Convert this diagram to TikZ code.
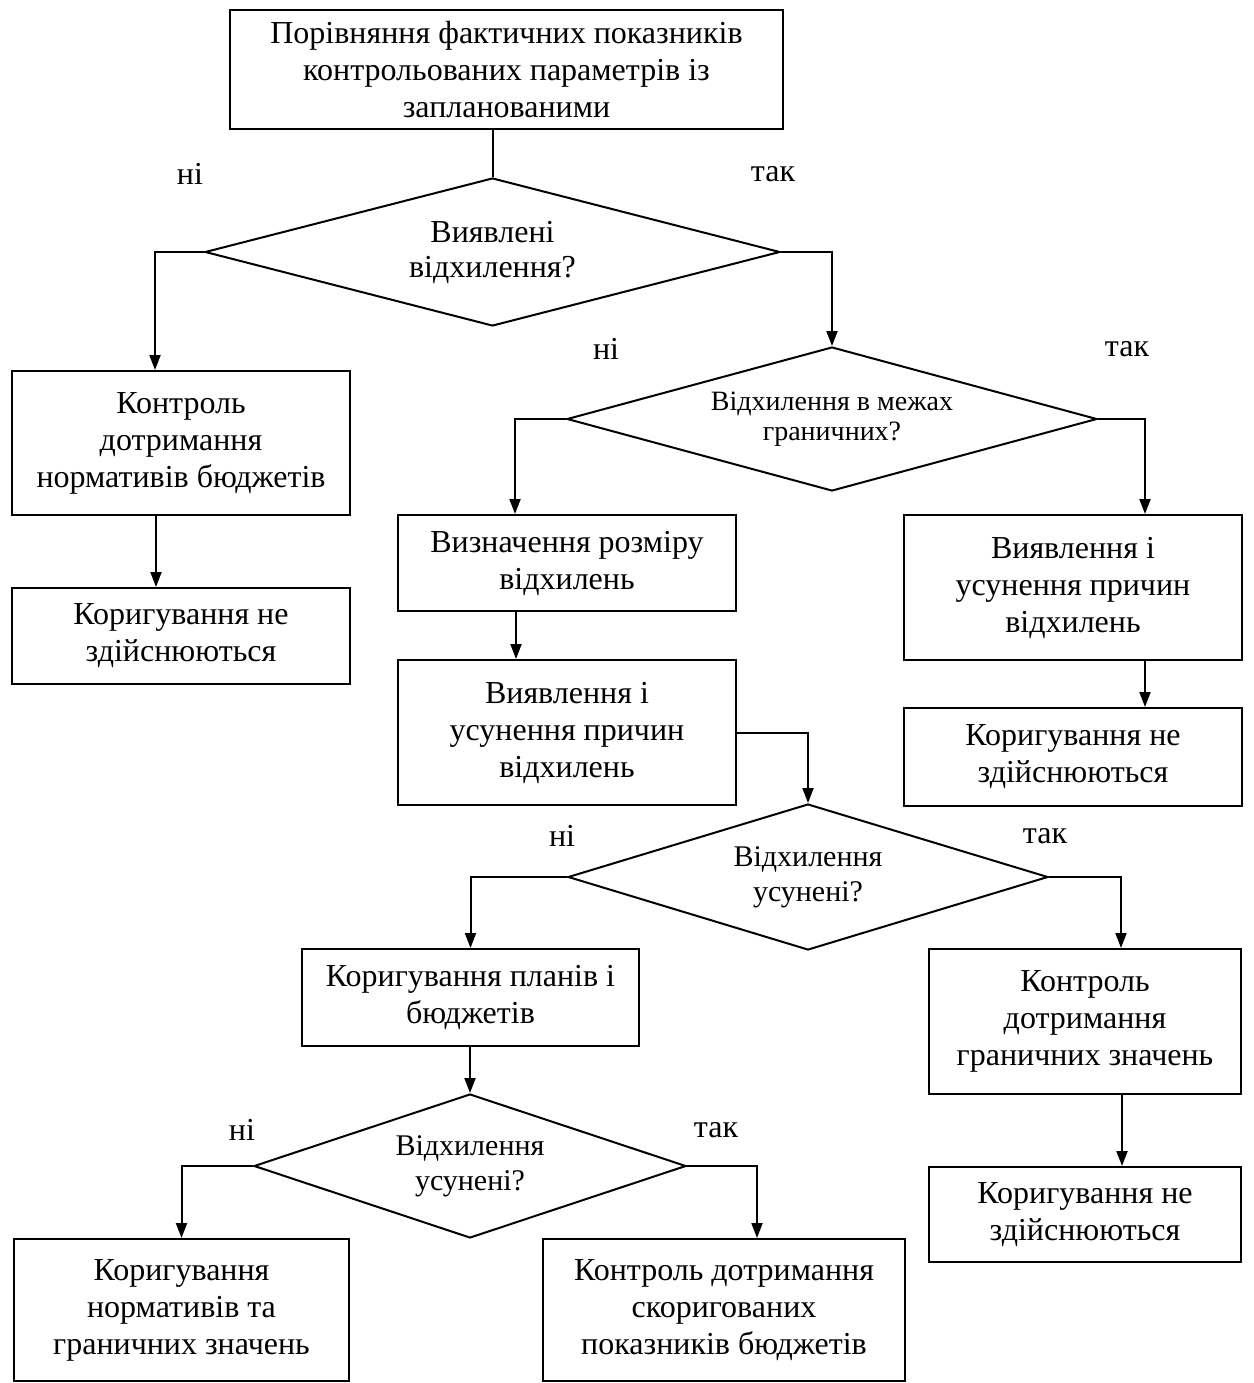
\documentclass[tikz,border=0pt]{standalone}
\usepackage{fontspec}
\setmainfont{Liberation Serif}
\usetikzlibrary{shapes.geometric,arrows.meta,calc}
\tikzset{
  box/.style={draw, line width=2pt, inner sep=0pt, align=center, font=\fontsize{32}{37}\selectfont},
  dia/.style={draw, diamond, line width=2pt, inner sep=0pt, align=center, font=\fontsize{30}{35}\selectfont},
  lab/.style={inner sep=0pt, font=\fontsize{32}{37}\selectfont},
  arr/.style={line width=2pt, -{Triangle[length=15pt,width=11pt]}},
  ln/.style={line width=2pt}
}
\begin{document}
\begin{tikzpicture}[x=1pt,y=-1pt]
\useasboundingbox (0,0) rectangle (1253,1383);
% boxes
\node[box, minimum width=553pt, minimum height=119pt] (b0) at (506.5,69.5) {Порівняння фактичних показників\\контрольованих параметрів із\\запланованими};
\node[box, minimum width=338pt, minimum height=144pt] (b1) at (181,443) {Контроль\\дотримання\\нормативів бюджетів};
\node[box, minimum width=338pt, minimum height=96pt] (b2) at (181,636) {Коригування не\\здійснюються};
\node[box, minimum width=338pt, minimum height=96pt] (b3) at (567,563) {Визначення розміру\\відхилень};
\node[box, minimum width=338pt, minimum height=145pt] (b4) at (567,732.5) {Виявлення і\\усунення причин\\відхилень};
\node[box, minimum width=338pt, minimum height=145pt] (b5) at (1073,587.5) {Виявлення і\\усунення причин\\відхилень};
\node[box, minimum width=338pt, minimum height=98pt] (b6) at (1073,757) {Коригування не\\здійснюються};
\node[box, minimum width=337pt, minimum height=97pt] (b7) at (470.5,997.5) {Коригування планів і\\бюджетів};
\node[box, minimum width=312pt, minimum height=145pt] (b8) at (1085,1021.5) {Контроль\\дотримання\\граничних значень};
\node[box, minimum width=312pt, minimum height=95pt] (b9) at (1085,1214.5) {Коригування не\\здійснюються};
\node[box, minimum width=335pt, minimum height=142pt] (b10) at (181.5,1310) {Коригування\\нормативів та\\граничних значень};
\node[box, minimum width=362pt, minimum height=142pt] (b11) at (724,1310) {Контроль дотримання\\скоригованих\\показників бюджетів};
% diamonds
\node[dia, aspect=3.9, minimum width=575pt, minimum height=148pt, font=\fontsize{32}{35}\selectfont] (d1) at (492.5,252) {Виявлені\\відхилення?};
\node[dia, aspect=3.68, minimum width=530pt, minimum height=144pt, font=\fontsize{28}{30}\selectfont] (d2) at (832,419) {Відхилення в межах\\граничних?};
\node[dia, aspect=3.29, minimum width=480pt, minimum height=146pt] (d3) at (808,877) {Відхилення\\усунені?};
\node[dia, aspect=3.0, minimum width=432pt, minimum height=144pt] (d4) at (470,1166) {Відхилення\\усунені?};
% labels
\node[lab] (l1) at (190,174) {ні};
\node[lab] (l2) at (773,174) {так};
\node[lab] (l3) at (606,349) {ні};
\node[lab] (l4) at (1127,349) {так};
\node[lab] (l5) at (562,836) {ні};
\node[lab] (l6) at (1045,836) {так};
\node[lab] (l7) at (242,1130) {ні};
\node[lab] (l8) at (716,1130) {так};
% connectors
\draw[ln] (b0.south -| d1.north) -- (d1.north);
\draw[arr] (d1.west) -| ([xshift=144pt]b1.north west);
\draw[arr] ([xshift=145pt]b1.south west) -- ([xshift=145pt]b2.north west);
\draw[arr] (d1.east) -| (d2.north);
\draw[arr] (d2.west) -| ([xshift=118pt]b3.north west);
\draw[arr] (d2.east) -| ([xshift=242pt]b5.north west);
\draw[arr] ([xshift=119pt]b3.south west) -- ([xshift=119pt]b4.north west);
\draw[arr] ([xshift=242pt]b5.south west) -- ([xshift=242pt]b6.north west);
\draw[arr] (b4.east) -| (d3.north);
\draw[arr] (d3.west) -| (b7.north);
\draw[arr] (d3.east) -| ([xshift=193pt]b8.north west);
\draw[arr] (b7.south -| d4.north) -- (d4.north);
\draw[arr] ([xshift=194pt]b8.south west) -- ([xshift=194pt]b9.north west);
\draw[arr] (d4.west) -| (b10.north);
\draw[arr] (d4.east) -| ([xshift=215pt]b11.north west);
\end{tikzpicture}
\end{document}
